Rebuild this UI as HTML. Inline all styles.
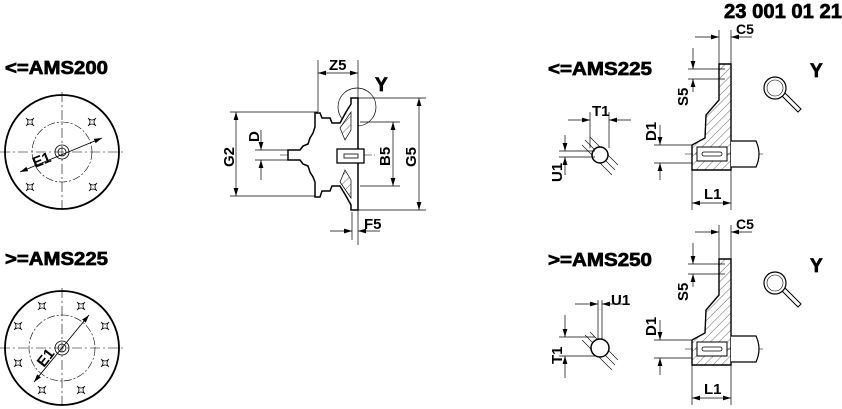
<!DOCTYPE html>
<html><head><meta charset="utf-8"><style>
html,body{margin:0;padding:0;background:#fff;}
svg{display:block;}
text{font-family:"Liberation Sans",sans-serif;font-weight:bold;fill:#000;}
.hd{stroke:#000;stroke-width:0.7;}
</style></head><body>
<svg width="842" height="409" viewBox="0 0 842 409" xmlns="http://www.w3.org/2000/svg">
<defs>
<marker id="a" viewBox="0 0 10 6" refX="10" refY="3" markerWidth="8" markerHeight="5" orient="auto-start-reverse" markerUnits="userSpaceOnUse"><path d="M0,0L10,3L0,6z" fill="#000"/></marker>
<g id="star"><path d="M-4,-4Q0,0 4,-4Q0,0 4,4Q0,0 -4,4Q0,0 -4,-4" fill="none" stroke="#000" stroke-width="0.8"/></g>
<pattern id="h" width="6" height="6" patternUnits="userSpaceOnUse" patternTransform="rotate(45)"><line x1="0" y1="0" x2="0" y2="6" stroke="#000" stroke-width="0.6"/></pattern>
</defs>
<text class="hd" x="842" y="18" font-size="20" text-anchor="end" textLength="118" lengthAdjust="spacingAndGlyphs">23 001 01 21</text>

<!-- left top -->
<text class="hd" x="5" y="74" font-size="18" textLength="103" lengthAdjust="spacingAndGlyphs">&lt;=AMS200</text>
<g stroke="#000" fill="none">
<circle cx="62" cy="152" r="57" stroke-width="1.8"/>
<circle cx="62" cy="152" r="30" stroke-width="0.6" stroke-dasharray="8,2,2,2"/>
<circle cx="62" cy="152" r="7" stroke-width="0.8"/>
<circle cx="62" cy="152" r="4" stroke-width="0.8"/>
<line x1="0" y1="152" x2="124" y2="152" stroke-width="0.6" stroke-dasharray="10,3,2,3"/>
<line x1="62" y1="92" x2="62" y2="212" stroke-width="0.6" stroke-dasharray="10,3,2,3"/>
<line x1="20" y1="172" x2="102" y2="138" stroke-width="0.9" marker-start="url(#a)" marker-end="url(#a)"/>
</g>
<use href="#star" x="30" y="122"/><use href="#star" x="92" y="122"/><use href="#star" x="30" y="187"/><use href="#star" x="93" y="187"/>
<text x="0" y="0" font-size="15" transform="translate(35,168) rotate(-22)">E1</text>

<!-- left bottom -->
<text class="hd" x="5" y="265" font-size="18" textLength="103" lengthAdjust="spacingAndGlyphs">&gt;=AMS225</text>
<g stroke="#000" fill="none">
<circle cx="62" cy="348" r="57" stroke-width="1.8"/>
<circle cx="62" cy="348" r="33" stroke-width="0.6" stroke-dasharray="8,2,2,2"/>
<circle cx="62" cy="348" r="7" stroke-width="0.8"/>
<circle cx="62" cy="348" r="4" stroke-width="0.8"/>
<line x1="0" y1="348" x2="124" y2="348" stroke-width="0.6" stroke-dasharray="10,3,2,3"/>
<line x1="62" y1="288" x2="62" y2="409" stroke-width="0.6" stroke-dasharray="10,3,2,3"/>
<line x1="34" y1="382" x2="89" y2="315" stroke-width="0.9" marker-start="url(#a)" marker-end="url(#a)"/>
</g>
<use href="#star" x="42" y="306"/><use href="#star" x="81" y="306"/><use href="#star" x="105" y="326"/><use href="#star" x="105" y="363"/><use href="#star" x="81" y="390"/><use href="#star" x="42" y="390"/><use href="#star" x="18" y="363"/><use href="#star" x="18" y="326"/>
<text x="0" y="0" font-size="15" transform="translate(44,368) rotate(-52)">E1</text>

<!-- center drawing -->
<g stroke="#000" fill="none" stroke-width="0.7">
<line x1="318" y1="60" x2="318" y2="112"/><line x1="358" y1="60" x2="358" y2="245"/>
<line x1="318" y1="73" x2="358" y2="73" marker-start="url(#a)" marker-end="url(#a)"/>
<line x1="352" y1="212" x2="352" y2="240"/>
<line x1="330" y1="231" x2="352" y2="231" marker-end="url(#a)"/><line x1="380" y1="231" x2="358" y2="231" marker-end="url(#a)"/>
<line x1="358" y1="98" x2="426" y2="98"/><line x1="358" y1="210" x2="426" y2="210"/>
<line x1="419" y1="98" x2="419" y2="210" marker-start="url(#a)" marker-end="url(#a)"/>
<line x1="360" y1="122" x2="400" y2="122"/><line x1="360" y1="186" x2="400" y2="186"/>
<line x1="393" y1="122" x2="393" y2="186" marker-start="url(#a)" marker-end="url(#a)"/>
<line x1="230" y1="112" x2="318" y2="112"/><line x1="230" y1="196" x2="318" y2="196"/>
<line x1="236" y1="112" x2="236" y2="196" marker-start="url(#a)" marker-end="url(#a)"/>
<line x1="255" y1="150" x2="290" y2="150"/><line x1="255" y1="160" x2="290" y2="160"/>
<line x1="261" y1="130" x2="261" y2="150" marker-end="url(#a)"/><line x1="261" y1="180" x2="261" y2="160" marker-end="url(#a)"/>
<line x1="280" y1="155" x2="375" y2="155" stroke-dasharray="8,2,2,2" stroke-width="0.5"/>
<circle cx="357" cy="107" r="19" stroke-width="0.7"/>
</g>
<g stroke="#000" stroke-width="1.5" fill="#fff">
<path d="M288,150 H300 L303,146 L308,144 L310,138 L313,133 L315,127 L315,113 L320,113 L322,118 L330,118 L332,123 L340,123 L346,112 L351,104 L351,98 L358,98 L358,210 L351,210 L351,205 L346,196 L340,186 L332,186 L330,191 L322,191 L320,197 L315,197 L315,182 L313,177 L310,172 L308,166 L303,164 L300,160 H288 Z"/>
</g>
<g stroke="#000" stroke-width="0.7" fill="url(#h)">
<path d="M340,128 L351,112 L351,130 L345,140 Z"/><path d="M340,182 L351,198 L351,180 L345,170 Z"/>
</g>
<rect x="337" y="149" width="27" height="14" fill="#fff" stroke="#000" stroke-width="1.3"/>
<rect x="344" y="154" width="14" height="4" fill="none" stroke="#000" stroke-width="0.8"/>
<text x="329" y="70" font-size="15">Z5</text>
<text class="hd" x="375" y="91" font-size="19">Y</text>
<text x="364" y="229" font-size="15">F5</text>
<text font-size="15" transform="translate(234,167) rotate(-90)">G2</text>
<text font-size="15" transform="translate(259,142) rotate(-90)">D</text>
<text font-size="15" transform="translate(390,166) rotate(-90)">B5</text>
<text font-size="15" transform="translate(416,167) rotate(-90)">G5</text>

<!-- right details -->
<g id="det">
<g stroke="#000" fill="none" stroke-width="0.7">
<line x1="719" y1="30" x2="719" y2="64"/><line x1="731" y1="30" x2="731" y2="64"/>
<line x1="695" y1="37" x2="719" y2="37" marker-end="url(#a)"/><line x1="752" y1="37" x2="731" y2="37" marker-end="url(#a)"/>
<line x1="688" y1="69" x2="725" y2="69"/><line x1="688" y1="79" x2="725" y2="79"/>
<line x1="693" y1="48" x2="693" y2="69" marker-end="url(#a)"/><line x1="693" y1="92" x2="693" y2="79" marker-end="url(#a)"/>
<line x1="654" y1="145" x2="692" y2="145"/><line x1="654" y1="163" x2="692" y2="163"/>
<line x1="660" y1="125" x2="660" y2="145" marker-end="url(#a)"/><line x1="660" y1="180" x2="660" y2="163" marker-end="url(#a)"/>
<line x1="692" y1="170" x2="692" y2="210"/><line x1="731" y1="170" x2="731" y2="210"/>
<line x1="692" y1="203" x2="731" y2="203" marker-start="url(#a)" marker-end="url(#a)"/>
<line x1="685" y1="154" x2="765" y2="154" stroke-dasharray="8,2,2,2" stroke-width="0.5"/>
<circle cx="775" cy="88" r="11" stroke-width="1.2"/><circle cx="775" cy="88" r="8" stroke-width="0.6"/>
<path d="M782,96 L798,112 L801,109 L785,93" stroke-width="1"/>
</g>
<path d="M719,64 H731 V170 H692 V145 L705,138 L706,115 L719,100 Z" fill="url(#h)" stroke="#000" stroke-width="1.4"/>
<path d="M731,141 H756 Q762,154 756,167 H731" fill="#fff" stroke="#000" stroke-width="1.2"/>
<rect x="697" y="147" width="30" height="14" fill="#fff" stroke="#000" stroke-width="1"/>
<rect x="702" y="152" width="20" height="4" rx="2" fill="none" stroke="#000" stroke-width="0.8"/>
<text x="736" y="34" font-size="14">C5</text>
<text class="hd" x="810" y="77" font-size="19">Y</text>
<text x="704" y="199" font-size="15">L1</text>
<text font-size="15" transform="translate(688,106) rotate(-90)">S5</text>
<text font-size="15" transform="translate(656,141) rotate(-90)">D1</text>
</g>
<use href="#det" x="0" y="195"/>
<text class="hd" x="548" y="75" font-size="18" textLength="104" lengthAdjust="spacingAndGlyphs">&lt;=AMS225</text>
<text class="hd" x="548" y="266" font-size="18" textLength="104" lengthAdjust="spacingAndGlyphs">&gt;=AMS250</text>

<!-- shaft section top -->
<g stroke="#000" fill="none" stroke-width="0.7">
<path d="M585,140 L615,170 M590,137 L618,165 M582,145 L612,175" stroke-width="0.6"/>
<circle cx="600" cy="155" r="8" stroke-width="1.5" fill="#fff"/>
<line x1="590" y1="112" x2="590" y2="148"/><line x1="609" y1="112" x2="609" y2="148"/>
<line x1="568" y1="120" x2="590" y2="120" marker-end="url(#a)"/><line x1="631" y1="120" x2="609" y2="120" marker-end="url(#a)"/>
<line x1="559" y1="151" x2="595" y2="151"/><line x1="559" y1="157" x2="595" y2="157"/>
<line x1="565" y1="135" x2="565" y2="151" marker-end="url(#a)"/><line x1="565" y1="175" x2="565" y2="157" marker-end="url(#a)"/>
</g>
<text x="592" y="116" font-size="15">T1</text>
<text font-size="15" transform="translate(562,182) rotate(-90)">U1</text>

<!-- shaft section bottom -->
<g stroke="#000" fill="none" stroke-width="0.7">
<path d="M585,335 L615,365 M590,332 L618,360 M582,340 L612,370" stroke-width="0.6"/>
<circle cx="600" cy="348" r="9" stroke-width="1.5" fill="#fff"/>
<line x1="598" y1="300" x2="598" y2="340"/><line x1="602" y1="300" x2="602" y2="340"/>
<line x1="575" y1="304" x2="598" y2="304" marker-end="url(#a)"/><line x1="625" y1="304" x2="602" y2="304" marker-end="url(#a)"/>
<line x1="559" y1="337" x2="595" y2="337"/><line x1="559" y1="356" x2="595" y2="356"/>
<line x1="565" y1="315" x2="565" y2="337" marker-end="url(#a)"/><line x1="565" y1="378" x2="565" y2="356" marker-end="url(#a)"/>
</g>
<text x="611" y="305" font-size="15">U1</text>
<text font-size="15" transform="translate(562,364) rotate(-90)">T1</text>
</svg>
</body></html>
